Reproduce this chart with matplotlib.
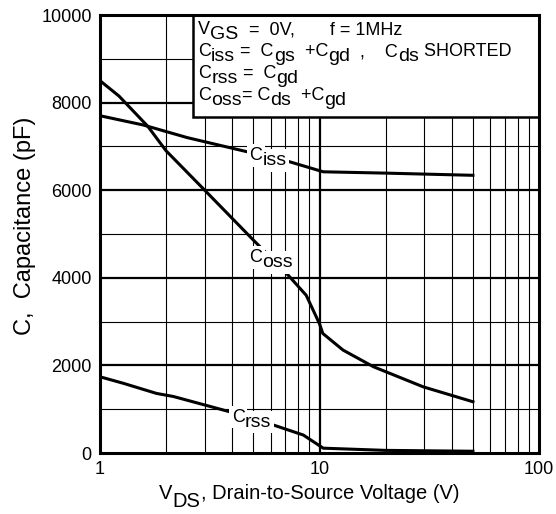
import numpy as np
import matplotlib
matplotlib.use("Agg")
import matplotlib.pyplot as plt
from matplotlib.patches import Rectangle

plt.rcParams['font.family'] = ['Liberation Sans', 'DejaVu Sans']

# capacitance curves (V, pF)
ciss_v = [1.0, 1.57, 2.5, 4.66, 7.3, 10.4, 20, 50]
ciss_c = [7700, 7490, 7200, 6880, 6650, 6420, 6390, 6340]

coss_v = [1.0, 1.22, 1.65, 2.0, 3.0, 5.0, 7.2, 8.7, 10.0, 10.35, 12.8, 17.6, 29.7, 50]
coss_c = [8500, 8150, 7460, 6900, 6000, 4860, 4060, 3600, 2950, 2730, 2350, 1970, 1510, 1170]

crss_v = [1.0, 1.28, 1.81, 2.16, 3.91, 6.16, 8.44, 10.4, 20, 50]
crss_c = [1740, 1590, 1360, 1290, 940, 640, 410, 110, 60, 40]

x_ticks = [1, 10, 100]
y_ticks = [0, 2000, 4000, 6000, 8000, 10000]


# text made of pieces, subscripts full size and dropped like the datasheet
def rich_text(ax, x, y, parts, size=13, subsize=14, shift=3.5, transform=None,
              zorder=6, bg=False):
    if transform is None:
        transform = ax.transData
    kw = dict(va='bottom', ha='left', zorder=zorder)
    s0, prev_sub = parts[0]
    t = ax.text(x, y, s0, transform=transform,
                fontsize=subsize if prev_sub else size, **kw)
    pieces = [t]
    for s, sub in parts[1:]:
        dy = 0
        if sub and not prev_sub:
            dy = -shift
        elif prev_sub and not sub:
            dy = shift
        t = ax.annotate(s, xy=(1, 0), xycoords=t, xytext=(0, dy),
                        textcoords='offset points', annotation_clip=False,
                        fontsize=subsize if sub else size, **kw)
        pieces.append(t)
        prev_sub = sub
    if bg:
        for p in pieces:
            p.set_bbox(dict(facecolor='white', edgecolor='none', pad=2))
            p.set_color('white')
            p.set_zorder(zorder - 0.5)
    return pieces


fig = plt.figure(figsize=(5.56, 5.14), dpi=100)
ax = fig.add_axes([100 / 556, 1 - 453 / 514, 439 / 556, 438 / 514])

ax.set_xscale('log')
ax.set_xlim(1, 100)
ax.set_ylim(0, 10000)

# grid
for dec in [1, 10]:
    for m in range(2, 10):
        ax.axvline(dec * m, color='k', lw=0.8, zorder=1)
ax.axvline(10, color='k', lw=1.6, zorder=1)
for yv in range(1000, 10000, 1000):
    ax.axhline(yv, color='k', lw=1.6 if yv % 2000 == 0 else 0.8, zorder=1)

for x, y in [(ciss_v, ciss_c), (coss_v, coss_c), (crss_v, crss_c)]:
    ax.plot(x, y, color='k', lw=2.2, zorder=3, solid_joinstyle='round')

# curve labels with white background
labels = [
    (4.8, 6600, [("C", False), ("iss", True)]),
    (4.8, 4270, [("C", False), ("oss", True)]),
    (3.98, 623, [("C", False), ("rss", True)]),
]
for lx, ly, parts in labels:
    rich_text(ax, lx, ly, parts, bg=True, zorder=5)
    rich_text(ax, lx, ly, parts, zorder=5)

# note box top right
ax.add_patch(Rectangle((0.212, 0.768), 0.79, 0.235, transform=ax.transAxes,
                       facecolor='white', edgecolor='k', lw=1.8, zorder=5))
box_lines = [
    [("V", False), ("GS", True), ("  =  0V,       f = 1MHz", False)],
    [("C", False), ("iss", True), (" =  C", False), ("gs", True), ("  +C", False),
     ("gd", True), ("  ,    C", False), ("ds", True), (" SHORTED", False)],
    [("C", False), ("rss", True), (" =  C", False), ("gd", True)],
    [("C", False), ("oss", True), ("= C", False), ("ds", True), ("  +C", False),
     ("gd", True)],
]
for i, parts in enumerate(box_lines):
    rich_text(ax, 0.224, 0.947 - i * 0.0502, parts,
              transform=ax.transAxes, zorder=6)

ax.set_xticks(x_ticks)
ax.set_xticklabels([str(v) for v in x_ticks])
ax.set_yticks(y_ticks)
ax.set_yticklabels([str(v) for v in y_ticks])
ax.minorticks_off()
ax.tick_params(length=0, labelsize=13, pad=6)
for s in ax.spines.values():
    s.set_linewidth(2.2)
    s.set_zorder(7)

rich_text(ax, 0.135, -0.114, [("V", False), ("DS", True),
                              (", Drain-to-Source Voltage (V)", False)],
          size=14.5, subsize=14.5, shift=5.5, transform=ax.transAxes)
fig.text(25 / 556, 1 - 226 / 514, "C,  Capacitance (pF)", fontsize=17,
         rotation=90, ha='center', va='center')

fig.savefig("out.png", dpi=100)
